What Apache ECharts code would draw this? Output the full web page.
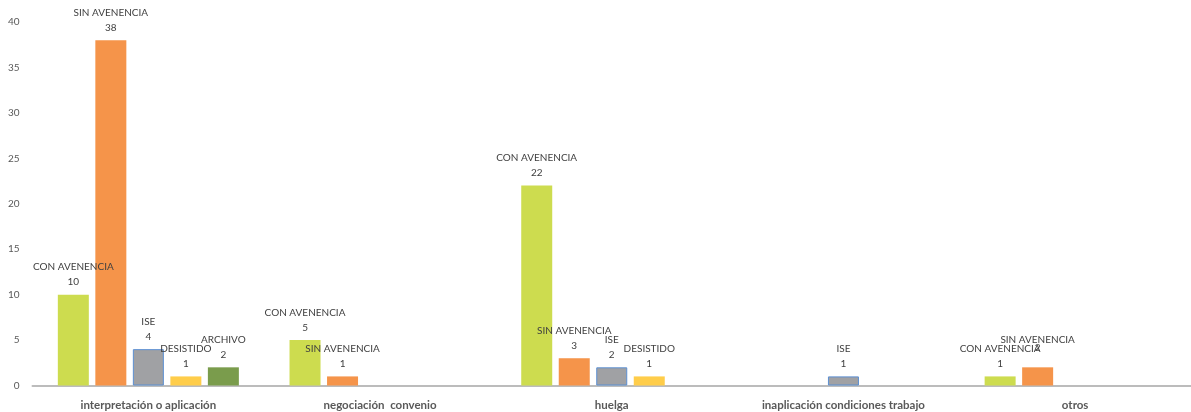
<!DOCTYPE html>
<html>
<head>
<meta charset="utf-8">
<script src="https://cdn.jsdelivr.net/npm/echarts@6/dist/echarts.min.js"></script>
<style>
html,body{margin:0;padding:0;background:#fff;}
#chart{width:1191px;height:412px;}
</style>
</head>
<body>
<div id="chart"></div>
<script>
const categories = ['interpretación o aplicación', 'negociación  convenio', 'huelga', 'inaplicación condiciones trabajo', 'otros'];
const seriesNames = ['CON AVENENCIA', 'SIN AVENENCIA', 'ISE', 'DESISTIDO', 'ARCHIVO'];
const conAvenencia = [10, 5, 22, null, 1];
const sinAvenencia = [38, 1, 3, null, 2];
const ise = [4, null, 2, 1, null];
const desistido = [1, null, 1, null, null];
const archivo = [2, null, null, null, null];
const yTicks = [0, 5, 10, 15, 20, 25, 30, 35, 40];

const colors = ['#cddc4f', '#f5944a', '#a0a1a4', '#ffcd4a', '#7a9c4c'];
const FONT = 'Lato, "Liberation Sans", sans-serif';

function mk(name, data, color, extra) {
  return Object.assign({
    name: name,
    type: 'bar',
    data: data,
    barWidth: 31,
    barGap: '21%',
    itemStyle: { color: color },
    label: {
      show: true,
      position: 'top',
      distance: 5,
      formatter: '{a}\n{c}',
      fontFamily: FONT,
      fontSize: 10,
      lineHeight: 15,
      color: '#404040'
    }
  }, extra || {});
}

const sinData = sinAvenencia.map((v, i) => {
  if (i === 4 && v != null) {
    return { value: v, label: { lineHeight: 8, distance: 16 } };
  }
  return v;
});

const chart = echarts.init(document.getElementById('chart'));
chart.setOption({
  animation: false,
  backgroundColor: '#ffffff',
  grid: { left: 32.5, right: -3.5, top: 22, bottom: 26.5, containLabel: false },
  xAxis: {
    type: 'category',
    data: categories,
    axisLine: { lineStyle: { color: '#bcbcbc', width: 2 } },
    axisTick: { show: false },
    axisLabel: {
      fontFamily: FONT,
      fontSize: 11.5,
      fontWeight: 'bold',
      color: '#595959',
      margin: 14,
      interval: 0
    }
  },
  yAxis: {
    type: 'value',
    min: yTicks[0],
    max: yTicks[yTicks.length - 1],
    interval: yTicks[1] - yTicks[0],
    axisLine: { show: false },
    axisTick: { show: false },
    splitLine: { show: false },
    axisLabel: {
      fontFamily: FONT,
      fontSize: 10,
      color: '#595959',
      margin: 13
    }
  },
  series: [
    mk(seriesNames[0], conAvenencia, colors[0]),
    mk(seriesNames[1], sinData, colors[1]),
    mk(seriesNames[2], ise, colors[2], { itemStyle: { color: colors[2], borderColor: '#5b8fd2', borderWidth: 1 } }),
    mk(seriesNames[3], desistido, colors[3]),
    mk(seriesNames[4], archivo, colors[4])
  ]
});
</script>
</body>
</html>
